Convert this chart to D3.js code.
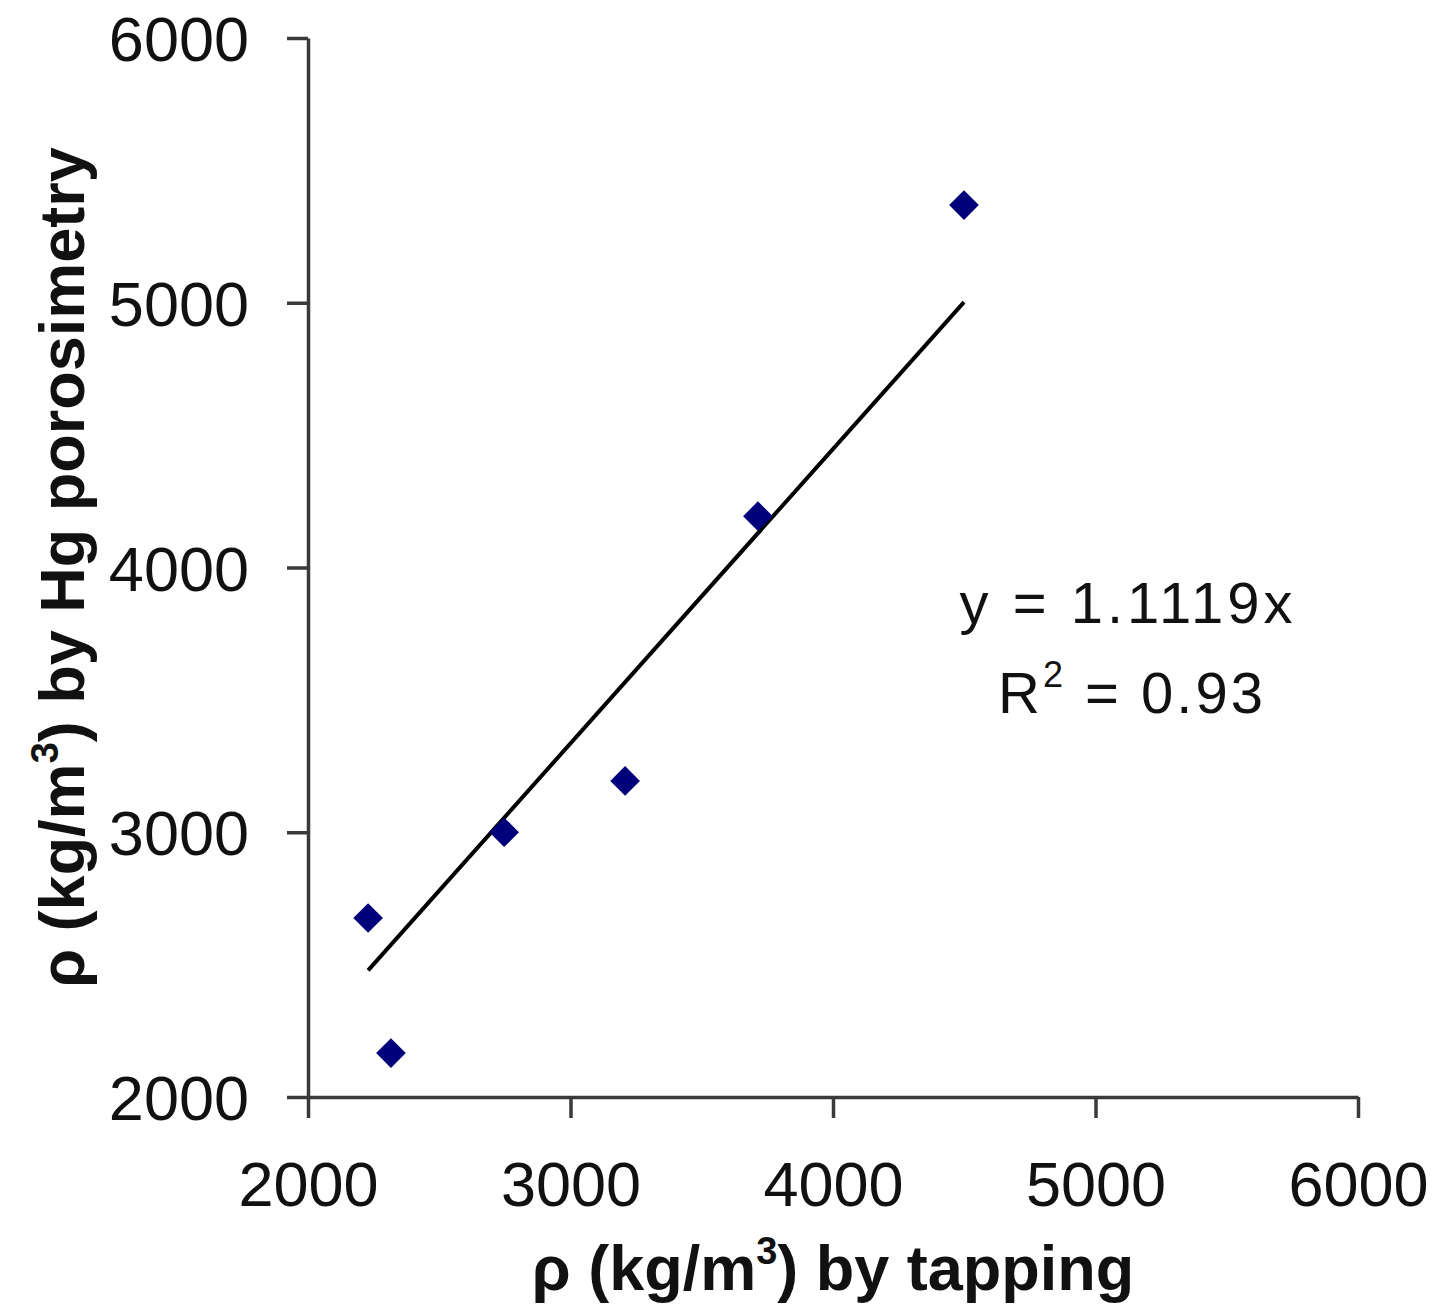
<!DOCTYPE html>
<html>
<head>
<meta charset="utf-8">
<script src="https://cdn.jsdelivr.net/npm/d3@7"></script>
<style>
	body { margin: 0; background: #fff; }
	text { font-family: 'Liberation Sans', Arial, sans-serif; }
</style>
</head>
<body>
<div id="chart"></div>
<script>
// data
const tapping = [2229, 2316, 2747, 3208, 3714, 4499];
const porosimetry = [2676, 2166, 3000, 3194, 4194, 5369];
const xTicks = [2000, 3000, 4000, 5000, 6000];
const yTicks = [2000, 3000, 4000, 5000, 6000];
const slope = 1.1119;
const r2 = 0.93;

const width = 1438;
const height = 1312;
const margin = { top: 38, right: 80, bottom: 215, left: 308 };

const svg = d3.select('#chart')
	.append('svg')
	.attr('width', width)
	.attr('height', height);

const x = d3.scaleLinear()
	.domain([2000, 6000])
	.range([margin.left, width - margin.right]);

const y = d3.scaleLinear()
	.domain([2000, 6000])
	.range([height - margin.bottom, margin.top]);

const axisColor = '#3a3a3a';
const fmt = d3.format('d');

// x axis
const gx = svg.append('g')
	.attr('transform', `translate(0, ${y(2000)})`)
	.call(d3.axisBottom(x).tickValues(xTicks).tickFormat(fmt).tickSize(21).tickPadding(43).tickSizeOuter(0));

// y axis
const gy = svg.append('g')
	.attr('transform', `translate(${x(2000)}, 0)`)
	.call(d3.axisLeft(y).tickValues(yTicks).tickFormat(fmt).tickSize(21).tickPadding(38).tickSizeOuter(0));

[gx, gy].forEach((g) => {
	g.select('.domain').attr('stroke', axisColor).attr('stroke-width', 3.5);
	g.selectAll('.tick line').attr('stroke', axisColor).attr('stroke-width', 3.5);
	g.selectAll('.tick text')
		.attr('fill', '#111')
		.style('font-size', '63px')
		.style('font-family', "'Liberation Sans', Arial, sans-serif");
});
gx.selectAll('.tick text').attr('dy', '0.71em');
gy.selectAll('.tick text').attr('dy', '0.36em');

// trend line through origin
const xMin = d3.min(tapping);
const xMax = d3.max(tapping);
svg.append('line')
	.attr('x1', x(xMin))
	.attr('y1', y(slope * xMin))
	.attr('x2', x(xMax))
	.attr('y2', y(slope * xMax))
	.attr('stroke', '#000')
	.attr('stroke-width', 4);

// points
const points = tapping.map((v, i) => ({ x: v, y: porosimetry[i] }));
const marker = d3.symbol().type(d3.symbolSquare).size(440);

svg.append('g')
	.selectAll('path')
	.data(points)
	.enter()
	.append('path')
	.attr('d', marker)
	.attr('transform', (d) => `translate(${x(d.x)}, ${y(d.y)}) rotate(45)`)
	.attr('fill', '#00007a');

// equation labels
const eq = svg.append('g').attr('fill', '#111').style('font-size', '58px');

eq.append('text')
	.attr('x', 1128)
	.attr('y', 623)
	.attr('text-anchor', 'middle')
	.attr('letter-spacing', 4)
	.text(`y = ${slope}x`);

const r2Text = eq.append('text')
	.attr('x', 1132)
	.attr('y', 713)
	.attr('text-anchor', 'middle')
	.attr('letter-spacing', 3);
r2Text.append('tspan').text('R');
r2Text.append('tspan').attr('dy', -26).style('font-size', '36px').text('2');
r2Text.append('tspan').attr('dy', 26).text(` = ${r2}`);

// axis titles
const xTitle = svg.append('text')
	.attr('x', (x(2000) + x(6000)) / 2)
	.attr('y', 1290)
	.attr('text-anchor', 'middle')
	.attr('font-weight', 'bold')
	.attr('fill', '#111')
	.style('font-size', '63px');
xTitle.append('tspan').text('ρ (kg/m');
xTitle.append('tspan').attr('dy', -26).style('font-size', '38px').text('3');
xTitle.append('tspan').attr('dy', 26).text(') by tapping');

const yTitle = svg.append('text')
	.attr('transform', `translate(84, ${(y(2000) + y(6000)) / 2}) rotate(-90)`)
	.attr('text-anchor', 'middle')
	.attr('font-weight', 'bold')
	.attr('fill', '#111')
	.style('font-size', '63px');
yTitle.append('tspan').text('ρ (kg/m');
yTitle.append('tspan').attr('dy', -26).style('font-size', '38px').text('3');
yTitle.append('tspan').attr('dy', 26).text(') by Hg porosimetry');
</script>
</body>
</html>
